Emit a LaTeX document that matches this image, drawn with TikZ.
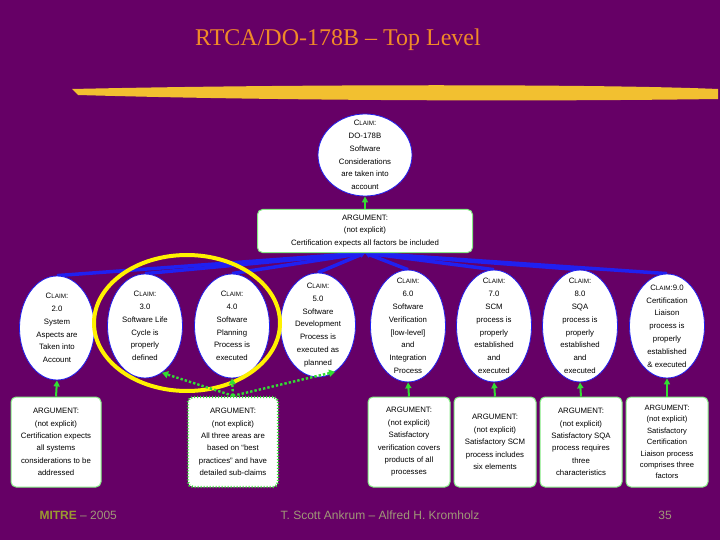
\documentclass[tikz,border=0pt]{standalone}
\usepackage{fontspec}
\setmainfont{Liberation Sans}
\newfontfamily\serifT{Liberation Serif}
\usetikzlibrary{arrows.meta,shapes.geometric,backgrounds}
\definecolor{bg}{HTML}{660066}
\definecolor{ttl}{HTML}{F08A28}
\definecolor{brush}{HTML}{F2C030}
\definecolor{gline}{HTML}{33DD33}
\definecolor{bline}{HTML}{2020F0}
\definecolor{foot}{HTML}{A09878}
\definecolor{mitre}{HTML}{9A9A30}
\newcommand{\CL}{C{\fontsize{6.3}{8}\selectfont LAIM}}
\tikzset{
 claim/.style={ellipse,draw=bline,line width=0.8pt,fill=white,minimum width=75pt,minimum height=104pt,inner sep=-8pt,align=center,font=\fontsize{7.8}{12.8}\selectfont},
 argbox/.style={rectangle,rounded corners=5pt,draw=gline!60!white,line width=1pt,fill=white,minimum width=82pt,minimum height=90pt,inner sep=1pt,align=center,font=\fontsize{7.8}{12.4}\selectfont},
 garrow/.style={draw=gline,line width=2pt,-{Triangle[length=6pt,width=6pt]}},
 barrow/.style={draw=bline,line width=3.5pt,-{Triangle[length=5pt,width=6pt]}},
 darrow/.style={draw=gline,line width=2.4pt,dotted,-{Triangle[length=6pt,width=7pt]}},
}
\begin{document}
\begin{tikzpicture}[x=1pt,y=-1pt]
\useasboundingbox (0,0) rectangle (720,540);
\node[font=\serifT\fontsize{24}{26}\selectfont,text=ttl] (title) at (338,40) {RTCA/DO-178B – Top Level};
\fill[brush] (72,89) .. controls (300,84) and (600,84) .. (718,89) -- (718,99) .. controls (500,102) and (250,100) .. (78,95) -- cycle;
% top claim
\node[claim,minimum width=94pt,minimum height=82pt] (c1) at (365,155) {\CL:\\DO-178B\\Software\\Considerations\\are taken into\\account};
\node[argbox,minimum width=215pt,minimum height=43pt] (a1) at (365,231) {ARGUMENT:\\(not explicit)\\Certification expects all factors be included};
\draw[garrow] (a1.north) -- (c1.south);
% claims row
\node[claim] (c2) at (57,328) {\CL:\\2.0\\System\\Aspects are\\Taken into\\Account};
\node[claim] (c3) at (145,326) {\CL:\\3.0\\Software Life\\Cycle is\\properly\\defined};
\node[claim] (c4) at (232,326) {\CL:\\4.0\\Software\\Planning\\Process is\\executed};
\node[claim] (c5) at (318,325) {\CL:\\5.0\\Software\\Development\\Process is\\executed as\\planned};
\node[claim,minimum height=108pt] (c6) at (408,326) {\CL:\\6.0\\Software\\Verification\\{}[low-level]\\and\\Integration\\Process};
\node[claim,minimum height=108pt] (c7) at (494,326) {\CL:\\7.0\\SCM\\process is\\properly\\established\\and\\executed};
\node[claim,minimum height=108pt] (c8) at (580,326) {\CL:\\8.0\\SQA\\process is\\properly\\established\\and\\executed};
\node[claim] (c9) at (667,326) {\CL:9.0\\Certification\\Liaison\\process is\\properly\\established\\\& executed};
\coordinate (hub) at (365,253);
\begin{pgfonlayer}{background}
\fill[bg] (0,0) rectangle (720,540);
\foreach \c in {c2,c3,c4,c5,c6,c7,c8,c9} \draw[barrow] (\c.north) -- (hub);
\end{pgfonlayer}
% yellow ring
\draw[yellow,line width=4pt] (187,323) ellipse (93pt and 68pt);
% arguments row
\node[argbox,minimum width=90pt] (a2) at (56,442) {ARGUMENT:\\(not explicit)\\Certification expects\\all systems\\considerations to be\\addressed};
\node[argbox,minimum width=90pt,draw=gline,dotted,line width=2.4pt] (a4) at (233,442) {ARGUMENT:\\(not explicit)\\All three areas are\\based on “best\\practices” and have\\detailed sub-claims};
\node[argbox] (a6) at (409,442) {ARGUMENT:\\(not explicit)\\Satisfactory\\verification covers\\products of all\\processes};
\node[argbox] (a7) at (495,442) {ARGUMENT:\\(not explicit)\\Satisfactory SCM\\process includes\\six elements};
\node[argbox] (a8) at (581,442) {ARGUMENT:\\(not explicit)\\Satisfactory SQA\\process requires\\three\\characteristics};
\node[argbox,font=\fontsize{7.6}{11.4}\selectfont] (a9) at (667,442) {ARGUMENT:\\(not explicit)\\Satisfactory\\Certification\\Liaison process\\comprises three\\factors};
\draw[garrow] (a2.north) -- (c2.south);
\draw[garrow] (a6.north) -- (c6.south);
\draw[garrow] (a7.north) -- (c7.south);
\draw[garrow] (a8.north) -- (c8.south);
\draw[garrow] (a9.north) -- (c9.south);
\draw[darrow] (a4.north) -- (c3.-70);
\draw[darrow] (a4.north) -- (c4.south);
\draw[darrow] (a4.north) -- (c5.-70);
% footer
\node[anchor=west,font=\fontsize{12}{14}\selectfont] (mitre) at (36,515) {\textcolor{mitre}{\bfseries MITRE} \textcolor{foot}{– 2005}};
\node[font=\fontsize{12}{14}\selectfont,text=foot] (auth) at (380,515) {T. Scott Ankrum – Alfred H. Kromholz};
\node[font=\fontsize{12}{14}\selectfont,text=foot] (pg) at (665,515) {35};
\end{tikzpicture}
\end{document}
